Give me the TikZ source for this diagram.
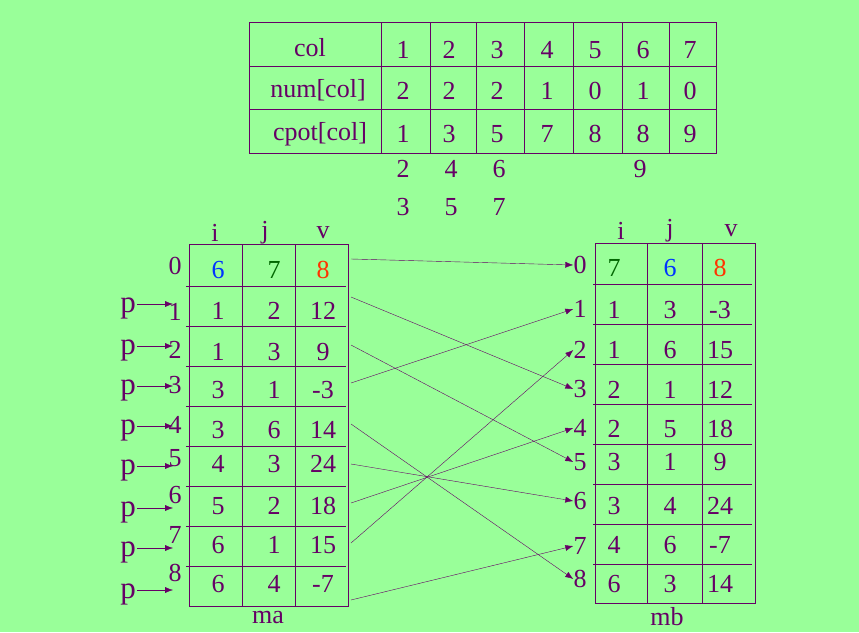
\documentclass[tikz,border=0pt]{standalone}
\usepackage{fontspec}
\setmainfont{Liberation Serif}
\usetikzlibrary{arrows.meta}
\definecolor{bg}{HTML}{99FF99}
\definecolor{pur}{HTML}{660066}
\definecolor{blu}{HTML}{0033FF}
\definecolor{grn}{HTML}{006600}
\definecolor{org}{HTML}{FF3300}
\tikzset{
  txt/.style={inner sep=0pt,text=pur,font=\rmfamily\fontsize{26}{30}\selectfont},
  ptr/.style={draw=pur,-{Latex[length=8pt,width=6pt]}},
  grid/.style={draw=pur,line width=0.9pt}
}
\begin{document}
\begin{tikzpicture}[x=1pt,y=-1pt]
  \fill[bg] (0,0) rectangle (859,632);
  \useasboundingbox (0,0) rectangle (859,632);
  % top table
  \draw[grid] (249,22) rectangle (716,153);
  \draw[grid] (249,66) -- (716,66);
  \draw[grid] (249,109) -- (716,109);
  \foreach \x in {381,430,476,524,573,622,669} \draw[grid] (\x,22) -- (\x,153);
  \node[txt] (col) at (310,48) {col};
  \node[txt] (num) at (318,90) {num[col]};
  \node[txt] (cpot) at (320,134) {cpot[col]};
  \foreach \v/\x in {1/403,2/449,3/497,4/547,5/595,6/643,7/690}
    \node[txt] (c\v) at (\x,50) {\v};
  \foreach \v/\x [count=\k] in {2/403,2/449,2/497,1/547,0/595,1/643,0/690}
    \node[txt] (n\k) at (\x,91) {\v};
  \foreach \v/\x [count=\k] in {1/403,3/449,5/497,7/547,8/595,8/643,9/690}
    \node[txt] (p\k) at (\x,134) {\v};
  \node[txt] (q1) at (403,169) {2};
  \node[txt] (q2) at (451,169) {4};
  \node[txt] (q3) at (499,169) {6};
  \node[txt] (q6) at (640,169) {9};
  \node[txt] (r1) at (403,207) {3};
  \node[txt] (r2) at (451,207) {5};
  \node[txt] (r3) at (499,207) {7};
  % table ma
  \draw[grid] (189,244) rectangle (348,606);
  \foreach \y in {286,326,366,406,446,486,526,566} \draw[grid] (186,\y) -- (346,\y);
  \draw[grid] (242,244) -- (242,606);
  \draw[grid] (295,244) -- (295,606);
  \node[txt] (mai) at (215,233) {i};
  \node[txt] (maj) at (265,233) {j};
  \node[txt] (mav) at (323,233) {v};
  \node[txt] (ma) at (268,617) {ma};
  \node[txt,text=blu] at (218,270) {6};
  \node[txt,text=grn] at (274,270) {7};
  \node[txt,text=org] at (323,270) {8};
  \foreach \i/\j/\v/\y in {1/2/12/311,1/3/9/352,3/1/-3/390,3/6/14/430,4/3/24/464,5/2/18/506,6/1/15/545,6/4/-7/584}{
    \node[txt] at (218,\y) {\i};
    \node[txt] at (274,\y) {\j};
    \node[txt] at (323,\y) {\v};
  }
  \foreach \k/\y in {0/266,1/312,2/350,3/385,4/425,5/458,6/495,7/535,8/573}
    \node[txt] (ia\k) at (175,\y) {\k};
  \foreach \k/\y in {1/308,2/350,3/390,4/430,5/470,6/512,7/552,8/594}{
    \node[txt,font=\rmfamily\fontsize{31}{34}\selectfont] (pp\k) at (128,\y) {p};
    \coordinate (pe\k) at (173,\y-4);
    \draw[ptr] (137,\y-4) -- (pe\k);
  }
  % table mb
  \draw[grid] (595,243) rectangle (755,603);
  \foreach \y in {284,324,364,404,444,484,524,564} \draw[grid] (593,\y) -- (752,\y);
  \draw[grid] (647,243) -- (647,603);
  \draw[grid] (702,243) -- (702,603);
  \node[txt] (mbi) at (621,231) {i};
  \node[txt] (mbj) at (670,231) {j};
  \node[txt] (mbv) at (731,231) {v};
  \node[txt] (mb) at (667,617) {mb};
  \node[txt,text=grn] at (614,268) {7};
  \node[txt,text=blu] at (670,268) {6};
  \node[txt,text=org] at (720,268) {8};
  \foreach \i/\j/\v/\y in {1/3/-3/310,1/6/15/350,2/1/12/390,2/5/18/429,3/1/9/462,3/4/24/506,4/6/-7/545,6/3/14/584}{
    \node[txt] at (614,\y) {\i};
    \node[txt] at (670,\y) {\j};
    \node[txt] at (720,\y) {\v};
  }
  \foreach \k/\y in {0/265,1/309,2/350,3/389,4/428,5/462,6/501,7/546,8/579}
    \node[txt] (ib\k) at (580,\y) {\k};
  % moves
  \foreach \k/\y in {0/259,1/297,2/345,3/383,4/424,5/464,6/503,7/543,8/600}
    \coordinate (ra\k) at (351,\y);
  \foreach \a/\b in {0/0,1/3,2/5,3/1,4/8,5/6,6/4,7/2,8/7}
    \draw[ptr] (ra\a) -- (ib\b.west);
\end{tikzpicture}
\end{document}
